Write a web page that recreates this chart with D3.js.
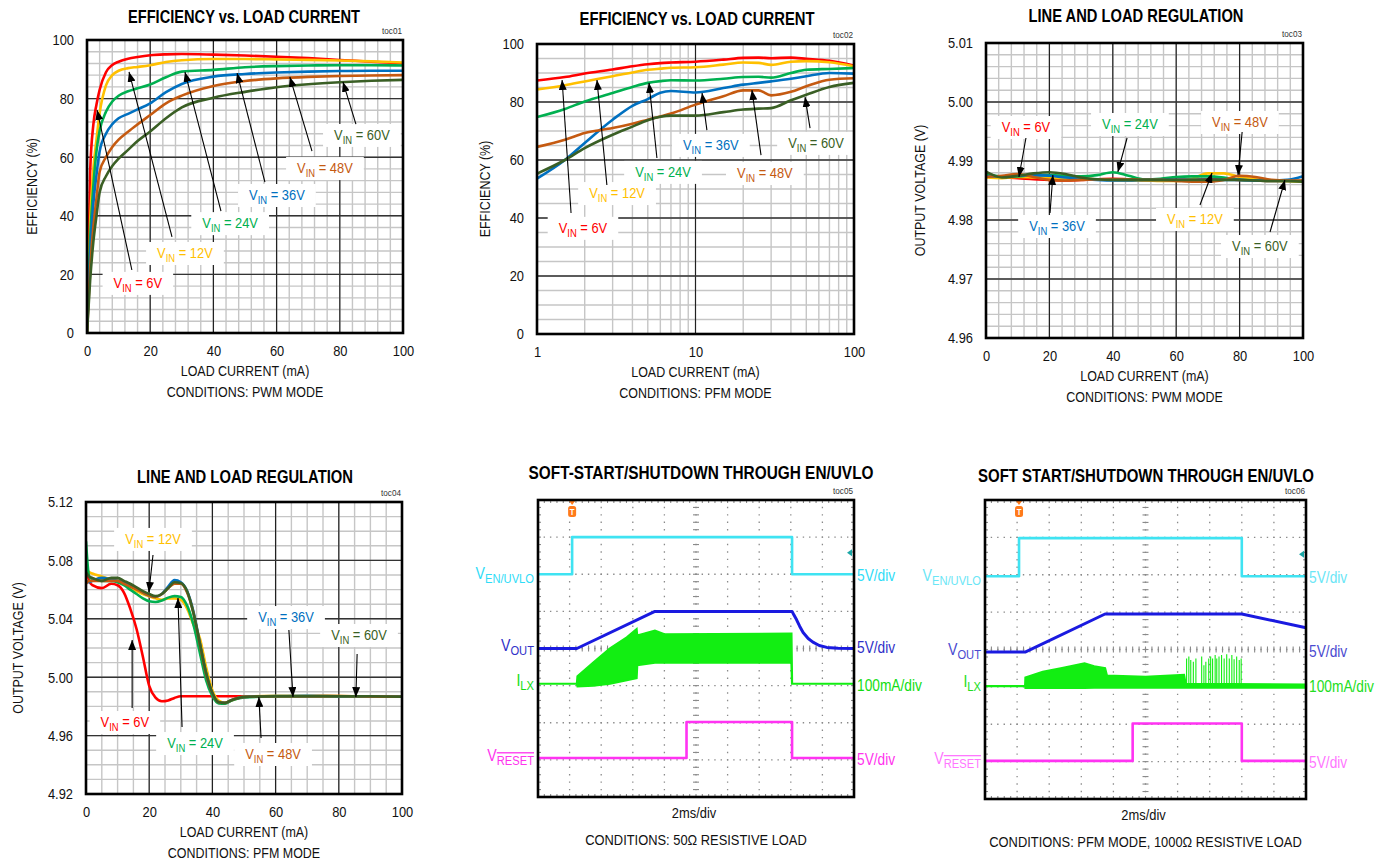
<!DOCTYPE html>
<html>
<head>
<meta charset="utf-8">
<script src="https://cdn.jsdelivr.net/npm/d3@7"></script>
<style>
body { margin: 0; background: #fff; }
</style>
</head>
<body>
<script>
var FONT = "'Liberation Sans Narrow','Arial Narrow','Liberation Sans',Arial,sans-serif";
var NARROW = 0.86;   // the datasheet face is a condensed Arial

var vinNames = ["6V", "12V", "24V", "36V", "48V", "60V"];
var vinColors = ["#ff0000", "#ffc000", "#00b050", "#0070c0", "#c55a11", "#3a5f25"];

// toc01 - efficiency vs load, PWM mode
var p1Load  = [0, 1, 2, 3, 4, 6, 8, 10, 13, 16, 20, 25, 30, 40, 50, 60, 70, 80, 90, 100];
var p1Eff6  = [0, 55, 71, 78, 83, 89, 91.5, 92.6, 93.6, 94.2, 94.8, 95.1, 95.2, 95, 94.7, 94.3, 93.8, 93.2, 92.6, 92];
var p1Eff12 = [0, 38, 56, 66, 75, 84.5, 88, 89.5, 90.4, 90.8, 91.4, 92.5, 93.1, 93.5, 93.5, 93.4, 93.2, 93, 92.7, 92.3];
var p1Eff24 = [0, 32, 50, 62, 69, 75.5, 79, 81, 82.5, 83.5, 84.8, 87.3, 89.2, 89.8, 90.7, 91.1, 91.3, 91.4, 91.4, 91.3];
var p1Eff36 = [0, 27, 44, 54, 62, 68, 71.3, 73.3, 74.8, 76.3, 78.4, 82.2, 85, 87.5, 88.4, 88.9, 89.2, 89.4, 89.5, 89.5];
var p1Eff48 = [0, 22, 36, 46, 55, 60, 63.5, 66, 68.7, 71.2, 74.4, 78.4, 81, 84.3, 86, 86.9, 87.4, 87.7, 87.9, 88];
var p1Eff60 = [0, 18, 31, 40, 48, 53.5, 57, 59.5, 62.5, 65.5, 68.8, 73.3, 77, 80.3, 82.3, 83.9, 84.9, 85.6, 86.1, 86.4];
// label centre, arrow tail, arrow tip (data units)
var p1Labels = [[16.1, 17.1, 14.2, 21.5, 3.2, 76.1], [31.0, 27.3, 26.9, 32.8, 13.3, 89.1], [45.3, 37.5, 42.4, 41.6, 31.0, 89.1],
                [60.1, 47.1, 56.3, 51.5, 47.5, 88.7], [75.3, 56.3, 71.2, 62.1, 64.2, 87.4], [87.0, 67.6, 85.1, 71.3, 81.0, 85.7]];

// toc02 - efficiency vs load, PFM mode (log x)
var p2Load  = [1, 1.5, 2, 3, 4, 5, 6, 7, 10, 15, 20, 25, 30, 40, 50, 70, 100];
var p2Eff6  = [87.4, 88.6, 89.8, 91.2, 92.3, 93.0, 93.4, 93.6, 93.9, 94.6, 95.2, 95.3, 95.1, 95.3, 94.9, 94.2, 92.6];
var p2Eff12 = [84.3, 85.8, 87.1, 88.9, 90.2, 91.1, 91.5, 91.8, 92.0, 92.9, 93.6, 93.5, 92.8, 93.9, 94.1, 93.7, 92.3];
var p2Eff24 = [74.8, 77.6, 80.2, 83.1, 85.2, 86.6, 87.2, 87.5, 87.4, 88.0, 88.6, 88.7, 88.4, 90.0, 91.1, 91.4, 91.7];
var p2Eff36 = [53.6, 60.0, 65.9, 73.9, 78.7, 81.0, 83.2, 83.8, 83.3, 84.8, 86.0, 86.6, 87.1, 88.0, 88.9, 90.0, 89.8];
var p2Eff48 = [64.5, 67.0, 69.3, 71.0, 72.5, 73.9, 75.0, 76.0, 79.1, 82.0, 84.0, 84.0, 82.3, 83.5, 85.4, 87.7, 88.2];
var p2Eff60 = [55.3, 60.0, 64.1, 68.7, 71.5, 73.7, 74.9, 75.3, 75.3, 76.5, 77.4, 77.7, 77.9, 80.6, 82.5, 85.2, 86.6];
var p2Labels = [[1.95, 36.6, 1.64, 41.7, 1.44, 87.6], [3.2, 48.6, 2.76, 51.4, 2.39, 87.6], [6.24, 55.9, 5.71, 60.7, 5.09, 86.6],
                [12.5, 65.2, 11.8, 70.3, 11.0, 83.1], [27.4, 55.5, 25.9, 61.7, 22.7, 84.1], [57.6, 65.9, 52.8, 71.0, 49.1, 81.7]];

// toc03 - line and load regulation, PWM mode
var p3Load = [0, 5, 10, 15, 20, 25, 30, 35, 40, 45, 50, 55, 60, 65, 70, 75, 80, 85, 90, 95, 100];
var p3Vout6  = [4.9874, 4.9872, 4.9871, 4.9869, 4.9868, 4.9867, 4.9868, 4.9869, 4.9870, 4.9869, 4.9868, 4.9868, 4.9868, 4.9868, 4.9869, 4.9869, 4.9868, 4.9867, 4.9866, 4.9866, 4.9866];
var p3Vout12 = [4.9872, 4.9871, 4.9873, 4.9872, 4.9871, 4.9870, 4.9870, 4.9869, 4.9868, 4.9867, 4.9867, 4.9866, 4.9866, 4.9870, 4.9879, 4.9879, 4.9873, 4.9869, 4.9867, 4.9866, 4.9865];
var p3Vout24 = [4.9879, 4.9874, 4.9874, 4.9876, 4.9876, 4.9875, 4.9874, 4.9876, 4.9881, 4.9875, 4.9869, 4.9870, 4.9873, 4.9874, 4.9874, 4.9872, 4.9868, 4.9867, 4.9866, 4.9866, 4.9866];
var p3Vout36 = [4.9874, 4.9874, 4.9875, 4.9876, 4.9875, 4.9872, 4.9870, 4.9868, 4.9867, 4.9867, 4.9868, 4.9868, 4.9868, 4.9868, 4.9868, 4.9868, 4.9868, 4.9867, 4.9867, 4.9868, 4.9874];
var p3Vout48 = [4.9873, 4.9875, 4.9878, 4.9873, 4.9868, 4.9867, 4.9868, 4.9869, 4.9869, 4.9869, 4.9868, 4.9868, 4.9866, 4.9865, 4.9865, 4.9868, 4.9875, 4.9873, 4.9868, 4.9867, 4.9867];
var p3Vout60 = [4.9882, 4.9872, 4.9875, 4.9879, 4.9881, 4.9878, 4.9872, 4.9869, 4.9868, 4.9868, 4.9868, 4.9868, 4.9868, 4.9868, 4.9868, 4.9868, 4.9868, 4.9867, 4.9866, 4.9866, 4.9865];
var p3Labels = [[12.6, 4.99576, 12.6, 4.99390, 10.4, 4.98729], [65.9, 4.98017, 67.5, 4.98254, 71.3, 4.98797], [45.4, 4.99627, 44.5, 4.99390, 41.6, 4.98814],
                [22.4, 4.97898, 20.2, 4.98119, 21.1, 4.98763], [80.1, 4.99661, 80.8, 4.99492, 79.5, 4.98763], [86.4, 4.97559, 89.6, 4.97797, 94.3, 4.98678]];

// toc04 - line and load regulation, PFM mode
var p4Load = [0, 1, 2, 5, 8, 10, 12, 14, 16, 18, 20, 22, 24, 26, 28, 30, 32, 34, 36, 38, 40, 42, 44, 46, 50, 60, 70, 80, 90, 100];
var p4Vout6  = [5.078, 5.066, 5.063, 5.061, 5.064, 5.063, 5.058, 5.047, 5.033, 5.014, 4.994, 4.986, 4.9835, 4.9841, 4.9858, 4.987, 4.987, 4.987, 4.987, 4.987, 4.987, 4.987, 4.987, 4.987, 4.987, 4.987, 4.987, 4.987, 4.987, 4.9868];
var p4Vout12 = [5.074, 5.072, 5.071, 5.069, 5.067, 5.066, 5.064, 5.061, 5.059, 5.057, 5.0555, 5.054, 5.053, 5.054, 5.054, 5.053, 5.047, 5.036, 5.027, 5.007, 4.991, 4.984, 4.9825, 4.984, 4.9865, 4.9872, 4.9873, 4.9871, 4.9869, 4.9867];
var p4Vout24 = [5.093, 5.069, 5.067, 5.066, 5.066, 5.065, 5.063, 5.060, 5.057, 5.054, 5.052, 5.0515, 5.0525, 5.0545, 5.0555, 5.055, 5.049, 5.036, 5.017, 4.998, 4.987, 4.982, 4.9818, 4.984, 4.9862, 4.9868, 4.987, 4.9869, 4.9868, 4.9866];
var p4Vout36 = [5.066, 5.065, 5.066, 5.068, 5.067, 5.066, 5.065, 5.063, 5.061, 5.058, 5.056, 5.055, 5.057, 5.062, 5.0665, 5.065, 5.059, 5.045, 5.024, 5.003, 4.989, 4.983, 4.9825, 4.9843, 4.9865, 4.9871, 4.9872, 4.987, 4.9869, 4.9867];
var p4Vout48 = [5.064, 5.066, 5.066, 5.066, 5.066, 5.066, 5.064, 5.062, 5.06, 5.058, 5.056, 5.055, 5.057, 5.061, 5.064, 5.064, 5.058, 5.044, 5.023, 5.002, 4.989, 4.9828, 4.9824, 4.9843, 4.9865, 4.987, 4.987, 4.9871, 4.9868, 4.9866];
var p4Vout60 = [5.072, 5.069, 5.068, 5.066, 5.068, 5.068, 5.066, 5.064, 5.0615, 5.059, 5.057, 5.0555, 5.057, 5.061, 5.065, 5.0645, 5.0588, 5.044, 5.0234, 5.003, 4.9892, 4.9828, 4.9823, 4.9842, 4.9864, 4.987, 4.987, 4.987, 4.987, 4.9866];
var p4Labels = [[12.3, 4.9693, 14.6, 4.9789, 14.6, 5.0255], [21.2, 5.0947, 21.2, 5.0837, 19.9, 5.0584], [34.5, 4.9549, 30.4, 4.9659, 29.1, 5.0542],
                [63.3, 5.0412, 64.2, 5.0323, 65.5, 4.9864], [59.2, 4.9474, 55.4, 4.9584, 54.7, 4.9864], [86.4, 5.0289, 85.8, 5.0159, 85.4, 4.9864]];

// toc05 - scope traces, in divisions (10 x 2ms/div, 8 vertical div)
var s5EnT = [0, 1.08, 1.08, 8.04, 8.04, 10];
var s5EnV = [6.0, 6.0, 7.0, 7.0, 6.0, 6.0];
var s5OutT = [0, 1.23, 3.7, 8.04, 8.1, 8.18, 8.28, 8.39, 8.55, 8.7, 8.9, 9.14, 9.5, 10];
var s5OutV = [4.0, 4.0, 5.0, 5.0, 4.9, 4.78, 4.6, 4.43, 4.27, 4.17, 4.08, 4.03, 4.01, 4.0];
var s5LxT   = [0, 1.23, 1.25, 1.75, 2.28, 2.81, 3.12, 3.14, 3.7, 4.0, 8.02, 8.04, 10];
var s5LxTop = [3.05, 3.05, 3.25, 3.62, 4.0, 4.3, 4.52, 4.35, 4.48, 4.38, 4.4, 3.05, 3.05];
var s5LxBot = [3.05, 3.05, 2.98, 3.0, 3.05, 3.15, 3.2, 3.55, 3.62, 3.62, 3.62, 3.05, 3.05];
var s5RstT = [0, 4.7, 4.7, 8.04, 8.04, 10];
var s5RstV = [1.05, 1.05, 2.02, 2.02, 1.05, 1.05];

// toc06
var s6EnT = [0, 1.06, 1.06, 8.0, 8.0, 10];
var s6EnV = [5.96, 5.96, 6.98, 6.98, 5.96, 5.96];
var s6OutT = [0, 1.25, 3.74, 8.0, 10];
var s6OutV = [3.93, 3.93, 4.95, 4.95, 4.58];
var s6LxT   = [0, 1.25, 1.26, 1.8, 2.4, 3.1, 3.4, 3.74, 3.8, 5.0, 6.2, 6.25, 10];
var s6LxTop = [3.02, 3.02, 3.25, 3.4, 3.5, 3.63, 3.55, 3.5, 3.3, 3.27, 3.32, 3.08, 3.06];
var s6LxBot = [3.02, 3.02, 2.97, 2.97, 2.97, 2.97, 2.98, 2.98, 2.98, 2.98, 2.98, 2.98, 2.98];
var s6SpikeT = [6.28, 6.35, 6.41, 6.49, 6.57, 6.75, 6.82, 6.88, 6.97, 7.03, 7.09, 7.17, 7.22, 7.29, 7.37, 7.45, 7.53, 7.61, 7.69, 7.76, 7.84, 7.92, 7.98];
var s6SpikeV = [3.76, 3.81, 3.72, 3.67, 3.76, 3.81, 3.58, 3.67, 3.76, 3.81, 3.76, 3.85, 3.76, 3.81, 3.85, 3.76, 3.87, 3.76, 3.85, 3.74, 3.81, 3.72, 3.76];
var s6RstT = [0, 4.6, 4.6, 8.0, 8.0, 10];
var s6RstV = [1.02, 1.02, 2.02, 2.02, 1.02, 1.02];

var svg = d3.select("body").append("svg")
    .attr("width", 1380).attr("height", 861)
    .style("background", "#fff")
    .style("font-family", FONT);

var defs = svg.append("defs");
defs.append("marker").attr("id", "ah")
    .attr("markerUnits", "userSpaceOnUse")
    .attr("markerWidth", 10).attr("markerHeight", 8)
    .attr("refX", 10).attr("refY", 4).attr("orient", "auto")
  .append("path").attr("d", "M0,0 L10,4 L0,8 Z").attr("fill", "#000");

function vinLabel(g, px, py, name, color) {
  var t = g.append("text").attr("x", px).attr("y", py + 5)
      .attr("text-anchor", "middle").attr("font-size", 15).attr("fill", color);
  t.append("tspan").text("V");
  t.append("tspan").attr("font-size", 11).attr("dy", 4).text("IN");
  t.append("tspan").attr("dy", -4).text(" = " + name);
  var w = t.node().getBBox().width * NARROW + 22;
  g.insert("rect", function() { return t.node(); })
      .attr("x", px - w / 2).attr("y", py - 11)
      .attr("width", w).attr("height", 23)
      .attr("fill", "#fff");
}

function title(g, cx, cy, txt, len) {
  g.append("text").classed("ttl", true).attr("x", cx).attr("y", cy).attr("text-anchor", "middle")
      .attr("font-size", 17.5).attr("font-weight", "bold").attr("fill", "#000")
      .attr("textLength", len).attr("lengthAdjust", "spacingAndGlyphs").text(txt);
}

function linePanel(o) {
  var g = svg.append("g");
  var x0 = o.box[0], x1 = o.box[1], y0 = o.box[2], y1 = o.box[3];
  var x = (o.log ? d3.scaleLog() : d3.scaleLinear()).domain(o.xDomain).range([x0, x1]);
  var y = d3.scaleLinear().domain(o.yDomain).range([y1, y0]);

  g.append("rect").attr("x", x0).attr("y", y0).attr("width", x1 - x0).attr("height", y1 - y0).attr("fill", "#fff");

  var grid = g.append("g");
  grid.selectAll(".xm").data(o.xMinor).enter().append("line")
      .attr("x1", function(d) { return x(d); }).attr("x2", function(d) { return x(d); })
      .attr("y1", y0).attr("y2", y1).attr("stroke", "#c6c6c6").attr("stroke-width", 1.4);
  grid.selectAll(".ym").data(o.yMinor).enter().append("line")
      .attr("y1", function(d) { return y(d); }).attr("y2", function(d) { return y(d); })
      .attr("x1", x0).attr("x2", x1).attr("stroke", "#c6c6c6").attr("stroke-width", 1.4);
  grid.selectAll(".xM").data(o.xMajor).enter().append("line")
      .attr("x1", function(d) { return x(d); }).attr("x2", function(d) { return x(d); })
      .attr("y1", y0).attr("y2", y1).attr("stroke", "#222").attr("stroke-width", 1.2);
  grid.selectAll(".yM").data(o.yMajor).enter().append("line")
      .attr("y1", function(d) { return y(d); }).attr("y2", function(d) { return y(d); })
      .attr("x1", x0).attr("x2", x1).attr("stroke", "#333").attr("stroke-width", 1.4);

  var xa = g.append("g").attr("transform", "translate(0," + y1 + ")")
      .call(d3.axisBottom(x).tickValues(o.xTicks).tickFormat(o.xFormat).tickSize(0).tickPadding(12));
  var ya = g.append("g").attr("transform", "translate(" + x0 + ",0)")
      .call(d3.axisLeft(y).tickValues(o.yTicks).tickFormat(o.yFormat).tickSize(0).tickPadding(o.yPad || 13));
  [xa, ya].forEach(function(a) {
    a.select(".domain").remove();
    a.attr("font-family", FONT).attr("font-size", 15);
    a.selectAll("text").attr("fill", "#111");
  });

  var clipId = "clip" + o.tag;
  defs.append("clipPath").attr("id", clipId)
    .append("rect").attr("x", x0).attr("y", y0 - 2).attr("width", x1 - x0).attr("height", y1 - y0 + 2);

  var line = d3.line().curve(d3.curveMonotoneX)
      .x(function(d, i) { return x(o.load[i]); })
      .y(function(d) { return y(d); });
  g.append("g").attr("clip-path", "url(#" + clipId + ")")
    .selectAll("path").data(o.series).enter().append("path")
      .attr("d", line).attr("fill", "none")
      .attr("stroke", function(d, i) { return vinColors[i]; })
      .attr("stroke-width", 2.6).attr("stroke-linejoin", "round");

  var ann = g.append("g");
  o.labels.forEach(function(l, i) {
    vinLabel(ann, x(l[0]), y(l[1]), vinNames[i], vinColors[i]);
  });
  o.labels.forEach(function(l) {
    ann.append("line")
        .attr("x1", x(l[2])).attr("y1", y(l[3]))
        .attr("x2", x(l[4])).attr("y2", y(l[5]))
        .attr("stroke", "#000").attr("stroke-width", 1.1)
        .attr("marker-end", "url(#ah)");
  });

  g.append("rect").attr("x", x0).attr("y", y0).attr("width", x1 - x0).attr("height", y1 - y0)
      .attr("fill", "none").attr("stroke", "#000").attr("stroke-width", 2.6);

  title(g, o.titleX, o.titleY, o.title, o.titleLen);
  g.append("text").attr("x", x1 - 1).attr("y", y0 - 6).attr("text-anchor", "end")
      .attr("font-size", 9.5).attr("fill", "#333").text(o.tag);
  g.append("text").attr("transform", "translate(" + o.yLabelX + "," + ((y0 + y1) / 2) + ") rotate(-90)")
      .attr("text-anchor", "middle").attr("font-size", 14.5).attr("fill", "#111").text(o.yLabel);
  g.append("text").attr("x", (x0 + x1) / 2).attr("y", y1 + 43).attr("text-anchor", "middle")
      .attr("font-size", 14.5).attr("fill", "#111").text("LOAD CURRENT (mA)");
  g.append("text").attr("x", (x0 + x1) / 2).attr("y", y1 + 64).attr("text-anchor", "middle")
      .attr("font-size", 14.5).attr("fill", "#111").text(o.cond);
}

function scopePanel(o) {
  var g = svg.append("g");
  var x0 = o.box[0], x1 = o.box[1], y0 = o.box[2], y1 = o.box[3];
  var x = d3.scaleLinear().domain([0, 10]).range([x0, x1]);
  var y = d3.scaleLinear().domain([0, 8]).range([y1, y0]);
  var dx = (x1 - x0) / 50, dy = (y1 - y0) / 40;

  g.append("rect").attr("x", x0).attr("y", y0).attr("width", x1 - x0).attr("height", y1 - y0).attr("fill", "#fff");
  g.selectAll(".gx").data(d3.range(1, 10)).enter().append("line")
      .attr("x1", function(d) { return x(d); }).attr("x2", function(d) { return x(d); })
      .attr("y1", y0).attr("y2", y1)
      .attr("stroke", "#8a8a8a").attr("stroke-width", 1.3)
      .attr("stroke-dasharray", "1.4," + (dy - 1.4)).attr("stroke-dashoffset", 0.7);
  g.selectAll(".gy").data(d3.range(1, 8)).enter().append("line")
      .attr("y1", function(d) { return y(d); }).attr("y2", function(d) { return y(d); })
      .attr("x1", x0).attr("x2", x1)
      .attr("stroke", "#8a8a8a").attr("stroke-width", 1.3)
      .attr("stroke-dasharray", "1.4," + (dx - 1.4)).attr("stroke-dashoffset", 0.7);
  // centre and border ticks
  var tk = g.append("g").attr("stroke", "#8a8a8a").attr("stroke-width", 1.1);
  d3.range(1, 40).forEach(function(k) {
    var yy = y0 + k * dy;
    tk.append("line").attr("x1", x(5) - 3).attr("x2", x(5) + 3).attr("y1", yy).attr("y2", yy);
    tk.append("line").attr("x1", x0).attr("x2", x0 + 3).attr("y1", yy).attr("y2", yy);
    tk.append("line").attr("x1", x1 - 3).attr("x2", x1).attr("y1", yy).attr("y2", yy);
  });
  d3.range(1, 50).forEach(function(k) {
    var xx = x0 + k * dx;
    tk.append("line").attr("y1", y(4) - 3).attr("y2", y(4) + 3).attr("x1", xx).attr("x2", xx);
    tk.append("line").attr("y1", y0).attr("y2", y0 + 3).attr("x1", xx).attr("x2", xx);
    tk.append("line").attr("y1", y1 - 3).attr("y2", y1).attr("x1", xx).attr("x2", xx);
  });

  function trace(ts, vs, color, w) {
    var pts = ts.map(function(t, i) { return [x(t), y(vs[i])]; });
    g.append("path").attr("d", d3.line()(pts)).attr("fill", "none")
        .attr("stroke", color).attr("stroke-width", w).attr("stroke-linejoin", "round");
  }

  // ILX band
  var area = d3.area()
      .x(function(d, i) { return x(o.lxT[i]); })
      .y0(function(d, i) { return y(o.lxBot[i]); })
      .y1(function(d) { return y(d); });
  g.append("path").datum(o.lxTop).attr("d", area)
      .attr("fill", o.colors.lx).attr("stroke", o.colors.lx).attr("stroke-width", 2.2);
  if (o.spikeT) {
    g.selectAll(".sp").data(o.spikeT).enter().append("line")
        .attr("x1", function(d) { return x(d); }).attr("x2", function(d) { return x(d); })
        .attr("y1", y(3.0)).attr("y2", function(d, i) { return y(o.spikeV[i]); })
        .attr("stroke", o.colors.lx).attr("stroke-width", 1.1);
  }
  trace(o.enT, o.enV, o.colors.en, 2.6);
  trace(o.outT, o.outV, o.colors.out, 3);
  trace(o.rstT, o.rstV, o.colors.rst, 2.6);

  // trigger marker
  var tx = x(o.trig);
  g.append("path").attr("d", "M" + (tx - 3) + "," + (y0 + 1) + " L" + (tx + 3) + "," + (y0 + 1) + " L" + tx + "," + (y0 + 5) + " Z")
      .attr("fill", "#ff7a1a");
  g.append("rect").attr("x", tx - 4).attr("y", y0 + 6).attr("width", 8).attr("height", 11).attr("rx", 2.5)
      .attr("fill", "#ff7a1a");
  g.append("text").attr("x", tx).attr("y", y0 + 15).attr("text-anchor", "middle")
      .attr("font-size", 9).attr("font-weight", "bold").attr("fill", "#fff").text("T");
  // level marker on right
  var ly = y(o.levelMark);
  g.append("path").attr("d", "M" + (x1 - 7) + "," + ly + " L" + (x1 - 2) + "," + (ly - 3.5) + " L" + (x1 - 2) + "," + (ly + 3.5) + " Z")
      .attr("fill", "#1aa6a6");

  g.append("rect").attr("x", x0).attr("y", y0).attr("width", x1 - x0).attr("height", y1 - y0)
      .attr("fill", "none").attr("stroke", "#000").attr("stroke-width", 2.6);

  // channel names on the left
  function chName(main, sub, ypos, color, over) {
    var t = g.append("text").attr("x", x0 - 4).attr("y", ypos).attr("text-anchor", "end")
        .attr("font-size", 16.5).attr("fill", color);
    t.append("tspan").text(main);
    var s = t.append("tspan").attr("font-size", 13).attr("dy", 4).text(sub);
    if (over) s.style("text-decoration", "overline");
  }
  chName("V", "EN/UVLO", y(o.enV[0]) + 5, o.colors.enLabel);
  chName("V", "OUT", y(o.outV[0]) + 3, o.colors.outLabel);
  chName("I", "LX", y(3.05) + 2, o.colors.lxLabel);
  chName("V", "RESET", y(o.rstV[0]) + 3, o.colors.rstLabel, true);

  var scaleY = [y(o.enV[0]) + 7, y(o.outV[0]) + 5, y(3.05) + 7, y(o.rstV[0]) + 7];
  var scaleTxt = ["5V/div", "5V/div", "100mA/div", "5V/div"];
  var scaleCol = [o.colors.enLabel, o.colors.outLabel, o.colors.lxLabel, o.colors.rstLabel];
  scaleTxt.forEach(function(s, i) {
    g.append("text").attr("x", x1 + 3).attr("y", scaleY[i]).attr("font-size", 16)
        .attr("fill", scaleCol[i]).text(s);
  });

  title(g, o.titleX, o.titleY, o.title, o.titleLen);
  g.append("text").attr("x", x1 - 1).attr("y", y0 - 6).attr("text-anchor", "end")
      .attr("font-size", 9.5).attr("fill", "#333").text(o.tag);
  g.append("text").attr("x", (x0 + x1) / 2 - 2).attr("y", y1 + 21).attr("text-anchor", "middle")
      .attr("font-size", 15).attr("fill", "#111").text("2ms/div");
  g.append("text").attr("x", (x0 + x1) / 2).attr("y", y1 + 48).attr("text-anchor", "middle")
      .attr("font-size", 15).attr("fill", "#111").text(o.cond);
}

var intFmt = d3.format("d");

linePanel({
  tag: "toc01", box: [87, 403, 40, 333], xDomain: [0, 100], yDomain: [0, 100],
  xTicks: [0, 20, 40, 60, 80, 100], yTicks: [0, 20, 40, 60, 80, 100], xFormat: intFmt, yFormat: intFmt,
  xMajor: [20, 40, 60, 80], yMajor: [20, 40, 60, 80],
  xMinor: d3.range(4, 100, 4), yMinor: d3.range(4, 100, 4),
  load: p1Load, series: [p1Eff6, p1Eff12, p1Eff24, p1Eff36, p1Eff48, p1Eff60], labels: p1Labels,
  title: "EFFICIENCY vs. LOAD CURRENT", titleX: 244, titleY: 23, titleLen: 232,
  yLabel: "EFFICIENCY (%)", yLabelX: 37, cond: "CONDITIONS: PWM MODE"
});

linePanel({
  tag: "toc02", box: [537, 854, 44, 334], log: true, xDomain: [1, 100], yDomain: [0, 100],
  xTicks: [1, 10, 100], yTicks: [0, 20, 40, 60, 80, 100], xFormat: intFmt, yFormat: intFmt,
  xMajor: [10], yMajor: [20, 40, 60, 80],
  xMinor: [2, 3, 4, 5, 6, 7, 8, 9, 20, 30, 40, 50, 60, 70, 80, 90], yMinor: d3.range(5, 100, 5),
  load: p2Load, series: [p2Eff6, p2Eff12, p2Eff24, p2Eff36, p2Eff48, p2Eff60], labels: p2Labels,
  title: "EFFICIENCY vs. LOAD CURRENT", titleX: 697, titleY: 25, titleLen: 235,
  yLabel: "EFFICIENCY (%)", yLabelX: 490, cond: "CONDITIONS: PFM MODE"
});

linePanel({
  tag: "toc03", box: [986, 1303, 43, 338], xDomain: [0, 100], yDomain: [4.96, 5.01],
  xTicks: [0, 20, 40, 60, 80, 100], yTicks: [4.96, 4.97, 4.98, 4.99, 5.00, 5.01], xFormat: intFmt, yFormat: d3.format(".2f"),
  xMajor: [20, 40, 60, 80], yMajor: [4.97, 4.98, 4.99, 5.00],
  xMinor: d3.range(4, 100, 4), yMinor: d3.range(4.962, 5.01, 0.002),
  load: p3Load, series: [p3Vout6, p3Vout12, p3Vout24, p3Vout36, p3Vout48, p3Vout60], labels: p3Labels,
  title: "LINE AND LOAD REGULATION", titleX: 1136, titleY: 22, titleLen: 215,
  yLabel: "OUTPUT VOLTAGE (V)", yLabelX: 925, cond: "CONDITIONS: PWM MODE"
});

linePanel({
  tag: "toc04", box: [86, 402, 502, 794], xDomain: [0, 100], yDomain: [4.92, 5.12],
  xTicks: [0, 20, 40, 60, 80, 100], yTicks: [4.92, 4.96, 5.00, 5.04, 5.08, 5.12], xFormat: intFmt, yFormat: d3.format(".2f"),
  xMajor: [20, 40, 60, 80], yMajor: [4.96, 5.00, 5.04, 5.08],
  xMinor: d3.range(5, 100, 5), yMinor: d3.range(4.93, 5.12, 0.01),
  load: p4Load, series: [p4Vout6, p4Vout12, p4Vout24, p4Vout36, p4Vout48, p4Vout60], labels: p4Labels,
  title: "LINE AND LOAD REGULATION", titleX: 245, titleY: 483, titleLen: 216,
  yLabel: "OUTPUT VOLTAGE (V)", yLabelX: 23, cond: "CONDITIONS: PFM MODE"
});

scopePanel({
  tag: "toc05", box: [538, 854, 500, 797], trig: 1.08, levelMark: 6.58,
  enT: s5EnT, enV: s5EnV, outT: s5OutT, outV: s5OutV, rstT: s5RstT, rstV: s5RstV,
  lxT: s5LxT, lxTop: s5LxTop, lxBot: s5LxBot,
  colors: { en: "#3fe3f2", out: "#1a1ae0", lx: "#12ee12", rst: "#ff33f2",
            enLabel: "#2fdcf7", outLabel: "#3030c8", lxLabel: "#12dd12", rstLabel: "#ff33ee" },
  title: "SOFT-START/SHUTDOWN THROUGH EN/UVLO", titleX: 701, titleY: 479, titleLen: 345,
  cond: "CONDITIONS: 50\u03a9 RESISTIVE LOAD"
});

scopePanel({
  tag: "toc06", box: [985, 1306, 500, 799], trig: 1.06, levelMark: 6.55,
  enT: s6EnT, enV: s6EnV, outT: s6OutT, outV: s6OutV, rstT: s6RstT, rstV: s6RstV,
  lxT: s6LxT, lxTop: s6LxTop, lxBot: s6LxBot, spikeT: s6SpikeT, spikeV: s6SpikeV,
  colors: { en: "#3fe3f2", out: "#1a1ae0", lx: "#12ee12", rst: "#ff33f2",
            enLabel: "#6ae6f6", outLabel: "#4a4ad0", lxLabel: "#22dd22", rstLabel: "#ff77ff" },
  title: "SOFT START/SHUTDOWN THROUGH EN/UVLO", titleX: 1146, titleY: 482, titleLen: 336,
  cond: "CONDITIONS: PFM MODE, 1000\u03a9 RESISTIVE LOAD"
});

// squeeze every text horizontally about its anchor (titles already fitted)
svg.selectAll("text").each(function() {
  var t = d3.select(this);
  if (t.classed("ttl")) return;
  var ax = +t.attr("x") || 0;
  var sq = "translate(" + ax + ",0) scale(" + NARROW + ",1) translate(" + (-ax) + ",0)";
  var tr = t.attr("transform");
  t.attr("transform", tr ? tr + " " + sq : sq);
});
</script>
</body>
</html>
